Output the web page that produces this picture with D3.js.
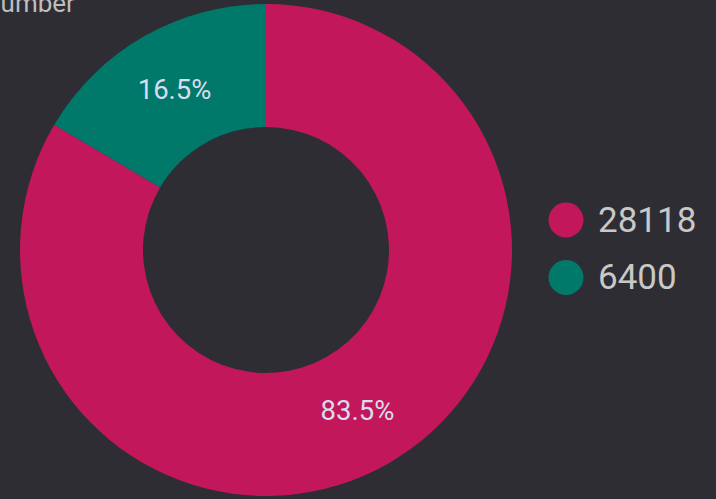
<!DOCTYPE html>
<html>
<head>
<meta charset="utf-8">
<script src="https://cdn.jsdelivr.net/npm/d3@7"></script>
<style>
  html, body { margin: 0; padding: 0; background: #2e2d33; }
  svg { display: block; }
</style>
</head>
<body>
<svg id="chart" width="716" height="499"></svg>
<script>
const title = "Number";
const categories = ["28118", "6400"];
// slice shares as shown in the picture (percent)
const values = [83.5, 16.5];
const colors = ["#c2185b", "#00796b"];

const W = 716, H = 499;
const cx = 266, cy = 250, outerR = 246, innerR = 123;

const svg = d3.select("#chart");
svg.append("rect").attr("width", W).attr("height", H).attr("fill", "#2e2d33");

const color = d3.scaleOrdinal().domain(categories).range(colors);
const pie = d3.pie().sort(null).value(d => d.value);
const data = categories.map((c, i) => ({ name: c, value: values[i] }));
const arcs = pie(data);
const total = d3.sum(values);

const arc = d3.arc().innerRadius(innerR).outerRadius(outerR);
const labelArc = d3.arc().innerRadius((innerR + outerR) / 2).outerRadius((innerR + outerR) / 2);

const g = svg.append("g").attr("transform", `translate(${cx},${cy})`);
g.selectAll("path.slice").data(arcs).join("path")
  .attr("class", "slice")
  .attr("d", arc)
  .attr("fill", d => color(d.data.name));

g.selectAll("text.pct").data(arcs).join("text")
  .attr("class", "pct")
  .attr("transform", d => `translate(${labelArc.centroid(d)})`)
  .attr("text-anchor", "middle")
  .attr("dominant-baseline", "central")
  .attr("font-family", "Roboto, sans-serif")
  .attr("font-size", 27.5)
  .attr("fill", "#d8dcee")
  .text(d => (d.data.value / total * 100).toFixed(1) + "%");

svg.append("text")
  .attr("x", -18).attr("y", 12)
  .attr("font-family", "Roboto, sans-serif")
  .attr("font-size", 26)
  .attr("fill", "#bdbdbd")
  .text(title);

const legend = svg.append("g").attr("transform", "translate(566,220)");
const items = legend.selectAll("g").data(categories).join("g")
  .attr("transform", (d, i) => `translate(0,${i * 57.5})`);
items.append("circle").attr("r", 17.5).attr("fill", d => color(d));
items.append("text")
  .attr("x", 32).attr("y", 0)
  .attr("dominant-baseline", "central")
  .attr("font-family", "Roboto, sans-serif")
  .attr("font-size", 35)
  .attr("fill", "#c8c8c8")
  .text(d => d);
</script>
</body>
</html>
